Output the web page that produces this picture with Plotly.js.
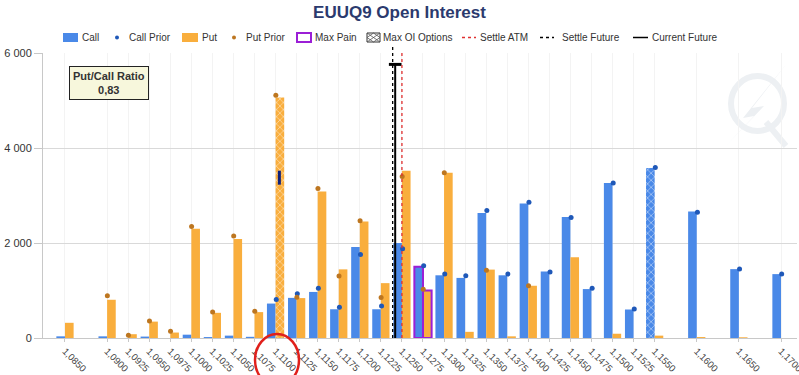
<!DOCTYPE html>
<html><head><meta charset="utf-8">
<script src="https://cdn.plot.ly/plotly-3.0.1.min.js"></script>
<style>html,body{margin:0;padding:0;background:#fff}#chart{width:799px;height:375px}</style>
</head><body><div id="chart"></div>
<script>
// ---------- data ----------
const strikes = [1.0850,1.0900,1.0925,1.0950,1.0975,1.1000,1.1025,1.1050,1.1075,1.1100,1.1125,1.1150,1.1175,1.1200,1.1225,1.1250,1.1275,1.1300,1.1325,1.1350,1.1375,1.1400,1.1425,1.1450,1.1475,1.1500,1.1525,1.1550,1.1600,1.1650,1.1700];
const strikeLabels = ['1,0850','1,0900','1,0925','1,0950','1,0975','1,1000','1,1025','1,1050','1,1075','1,1100','1,1125','1,1150','1,1175','1,1200','1,1225','1,1250','1,1275','1,1300','1,1325','1,1350','1,1375','1,1400','1,1425','1,1450','1,1475','1,1500','1,1525','1,1550','1,1600','1,1650','1,1700'];
const callOI    = [35,35,0,30,0,70,20,50,25,725,845,970,605,1915,605,2000,1500,1320,1265,2630,1320,2830,1400,2550,1030,3265,600,3580,2665,1450,1345];
const callPrior = [null,null,null,null,null,null,null,null,null,810,930,1050,645,1760,675,1880,1520,1345,1310,2685,1345,2860,1390,2535,1050,3265,610,3590,2650,1455,1350];
const putOI     = [320,805,80,345,115,2300,530,2085,545,5065,840,3085,1445,2455,1155,3520,1000,3480,130,1440,35,1100,0,1700,0,90,0,50,20,15,0];
const putPrior  = [null,890,60,360,140,2345,545,2150,565,5110,860,3145,1305,2470,855,3400,1025,3480,null,1425,null,1100,null,null,null,null,null,null,null,null,null];
const maxPainStrike = 1.1275;
const maxOICallStrike = 1.1550;
const maxOIPutStrike = 1.1100;
const settleATM = 1.1250;
const settleFuture = 1.1239;
const currentFuture = 1.1242;
const currentFutureLevel = 5760;
const putMarkerLevel = 3375;
const putCallRatio = '0,83';
const yTickVals = [0,2000,4000,6000];

// ---------- styles ----------
const callColor = '#4a89e8', putColor = '#f9ae3d';
const callPriorColor = '#1f58b8', putPriorColor = '#bd7620';
const painColor = '#9b1fd6';
const FONT = 'Liberation Sans, Arial, sans-serif';

// ---------- geometry helpers (layout only) ----------
const W=799,H=375,L=43,R=2,T=53,B=37;
const pw=W-L-R, ph=H-T-B;
const PX = px => (px-L)/pw;
const PY = py => (H-B-py)/ph;

const isPain = strikes.map(s => Math.abs(s-maxPainStrike)<1e-6);
const callPattern = strikes.map(s => Math.abs(s-maxOICallStrike)<1e-6 ? 'x' : '');
const putPattern  = strikes.map(s => Math.abs(s-maxOIPutStrike)<1e-6 ? 'x' : '');

const traces = [
  {type:'bar', name:'Call', x:strikes, y:callOI, offsetgroup:'c',
   marker:{color:callColor,
     line:{color:isPain.map(p=>p?painColor:callColor), width:isPain.map(p=>p?2:0)},
     pattern:{shape:callPattern, fillmode:'overlay', fgcolor:'#ffffff', size:5, solidity:0.3}},
   showlegend:false, hoverinfo:'x+y'},
  {type:'bar', name:'Put', x:strikes, y:putOI, offsetgroup:'p',
   marker:{color:putColor,
     line:{color:isPain.map(p=>p?painColor:putColor), width:isPain.map(p=>p?2:0)},
     pattern:{shape:putPattern, fillmode:'overlay', fgcolor:'#ffffff', size:5, solidity:0.3}},
   showlegend:false, hoverinfo:'x+y'},
  {type:'scatter', mode:'markers', name:'Call Prior', x:strikes.map(s=>s+0.00008), y:callPrior,
   marker:{color:callPriorColor, size:5}, showlegend:false, cliponaxis:false},
  {type:'scatter', mode:'markers', name:'Put Prior', x:strikes.map(s=>s+0.00003), y:putPrior,
   marker:{color:putPriorColor, size:5}, showlegend:false, cliponaxis:false},
  {type:'scatter', mode:'markers', name:'Current Future', x:[currentFuture], y:[currentFutureLevel],
   marker:{symbol:'line-ew-open', size:9, color:'#000', line:{width:3, color:'#000'}}, showlegend:false, cliponaxis:false},
  {type:'scatter', mode:'markers', name:'marker', x:[maxOIPutStrike+0.00045], y:[putMarkerLevel],
   marker:{symbol:'line-ns-open', size:10, color:'#10207a', line:{width:3, color:'#10207a'}}, showlegend:false}
];

const shapes = [
  // vertical reference lines
  {type:'line', xref:'x', yref:'paper', x0:settleFuture, x1:settleFuture, y0:0, y1:1.03, line:{color:'#000', width:1.3, dash:'dot'}},
  {type:'line', xref:'x', yref:'paper', x0:settleATM, x1:settleATM, y0:0, y1:1.0, line:{color:'#e03030', width:1.3, dash:'dot'}},
  {type:'line', xref:'x', yref:'y', x0:currentFuture, x1:currentFuture, y0:0, y1:currentFutureLevel, line:{color:'#000', width:2}},
  // red circle annotation
  {type:'circle', xref:'paper', yref:'paper', x0:PX(255), x1:PX(299), y0:PY(386), y1:PY(334), line:{color:'#e0201b', width:2.5}, layer:'above'},
  // watermark
  {type:'circle', xref:'paper', yref:'paper', x0:PX(731), x1:PX(784), y0:PY(131), y1:PY(76), line:{color:'#edf0f3', width:6}, layer:'below'},
  {type:'line', xref:'paper', yref:'paper', x0:PX(766), x1:PX(786), y0:PY(122), y1:PY(146), line:{color:'#edf0f3', width:6}, layer:'below'},
  {type:'path', xref:'paper', yref:'paper', layer:'below', fillcolor:'#eceff2', line:{width:0},
   path:`M ${PX(788)},${PY(62)} L ${PX(752)},${PY(108)} L ${PX(764)},${PY(106)} L ${PX(722)},${PY(150)} L ${PX(754)},${PY(116)} L ${PX(743)},${PY(118)} Z`}
];

// manual legend (layout decoration)
const LY = 37.5;
const annotations = [];
function rectIcon(x0,x1,fill,lineColor,lw){
  shapes.push({type:'rect', xref:'paper', yref:'paper', x0:PX(x0), x1:PX(x1), y0:PY(42), y1:PY(33),
    fillcolor:fill, line:{color:lineColor, width:lw}});
}
function dotIcon(cx,color){
  shapes.push({type:'circle', xref:'paper', yref:'paper', x0:PX(cx-2), x1:PX(cx+2), y0:PY(LY+2), y1:PY(LY-2),
    fillcolor:color, line:{width:0}});
}
function lineIcon(x0,x1,color,dash,w){
  shapes.push({type:'line', xref:'paper', yref:'paper', x0:PX(x0), x1:PX(x1), y0:PY(LY), y1:PY(LY),
    line:{color:color, width:w, dash:dash}});
}
function label(x,text){
  annotations.push({xref:'paper', yref:'paper', x:PX(x), y:PY(LY), xanchor:'left', yanchor:'middle',
    text:text, showarrow:false, font:{family:FONT, size:10, color:'#333'}, borderpad:0});
}
rectIcon(63,78,callColor,callColor,0); label(81,'Call');
dotIcon(117,callPriorColor); label(128,'Call Prior');
rectIcon(182,198,putColor,putColor,0); label(201,'Put');
dotIcon(234,putPriorColor); label(245,'Put Prior');
rectIcon(297,311,'#fff',painColor,2); label(314,'Max Pain');
rectIcon(367,380,'#fff','#333',1);
shapes.push({type:'path', xref:'paper', yref:'paper', line:{color:'#555', width:0.8},
  path:`M ${PX(367)},${PY(42)} L ${PX(380)},${PY(33)} M ${PX(367)},${PY(33)} L ${PX(380)},${PY(42)} M ${PX(373.5)},${PY(33)} L ${PX(380)},${PY(37.5)} L ${PX(373.5)},${PY(42)} L ${PX(367)},${PY(37.5)} Z`});
label(382,'Max OI Options');
lineIcon(462,476,'#e03030','dot',1.5); label(479,'Settle ATM');
lineIcon(540,554,'#000','dot',1.5); label(561,'Settle Future');
lineIcon(633,648,'#000','solid',1.5); label(651,'Current Future');

// put/call ratio box
annotations.push({xref:'paper', yref:'paper', x:PX(109), y:PY(83), xanchor:'center', yanchor:'middle',
  text:'<b>Put/Call Ratio</b><br><b>' + putCallRatio + '</b>', showarrow:false,
  font:{family:FONT, size:11, color:'#333'}, bgcolor:'#f7f7dc', bordercolor:'#222', borderwidth:1, borderpad:3, align:'center'});

const layout = {
  width:W, height:H,
  margin:{l:L, r:R, t:T, b:B, pad:0},
  paper_bgcolor:'#fff', plot_bgcolor:'#fff',
  separators:', ',
  title:{text:'EUUQ9 Open Interest', x:0.5, xanchor:'center', y:1-12.5/H, yanchor:'middle', yref:'container',
    font:{family:FONT, size:17, color:'#2b3a6e', weight:'bold'}},
  barmode:'group', bargap:0.18, bargroupgap:0,
  showlegend:false,
  xaxis:{type:'linear', range:[1.08239, 1.1719], tickmode:'array', tickvals:strikes, ticktext:strikeLabels,
    tickangle:45, tickfont:{family:FONT, size:9.5, color:'#444'}, showgrid:true, gridcolor:'#f3f3f3',
    showline:true, linecolor:'#c8c8c8', ticks:'outside', ticklen:3, tickcolor:'#c8c8c8', zeroline:false,
    automargin:false, ticklabeloverflow:'allow'},
  yaxis:{range:[0,6000], tickmode:'array', tickvals:yTickVals, separatethousands:true, tickformat:',d',
    tickfont:{family:FONT, size:11, color:'#333'}, gridcolor:'#d9d9d9', showline:true, linecolor:'#c8c8c8',
    ticks:'outside', ticklen:8, tickcolor:'#c8c8c8', zeroline:true, zerolinecolor:'#c8c8c8', automargin:false},
  shapes:shapes, annotations:annotations
};

Plotly.newPlot('chart', traces, layout, {displayModeBar:false, staticPlot:true});
</script></body></html>
